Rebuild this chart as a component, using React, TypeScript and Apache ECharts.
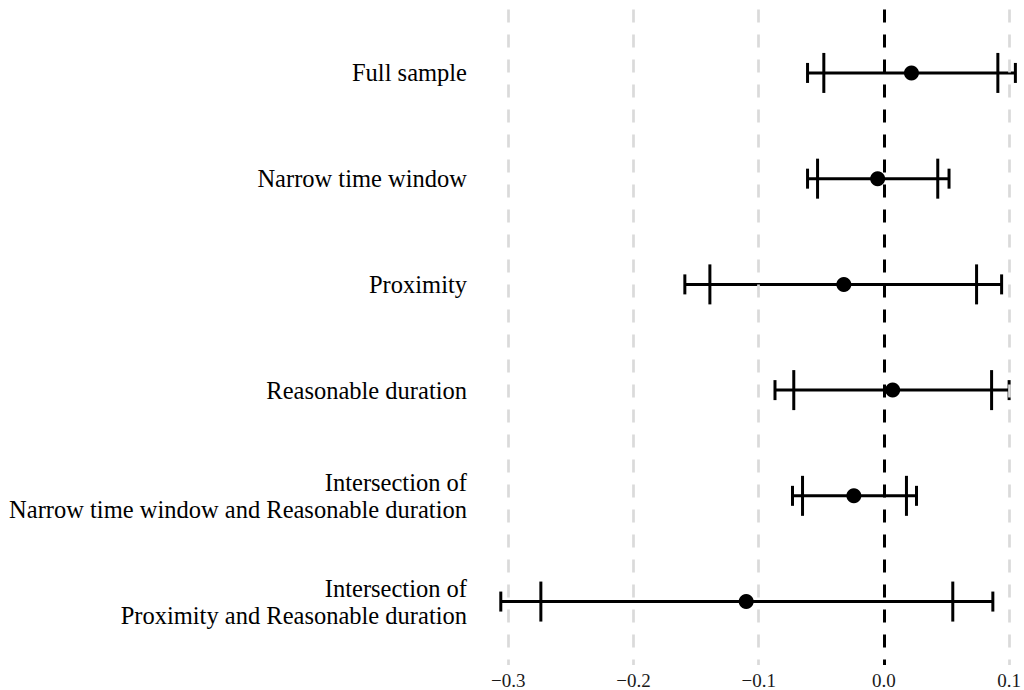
import React, { useEffect, useRef } from "react";
import * as echarts from "echarts";

const categories = [
  "Full sample",
  "Narrow time window",
  "Proximity",
  "Reasonable duration",
  "Intersection of\nNarrow time window and Reasonable duration",
  "Intersection of\nProximity and Reasonable duration",
];
const estimates = [0.022, -0.005, -0.032, 0.007, -0.024, -0.110];
const outerLow = [-0.061, -0.061, -0.159, -0.087, -0.073, -0.306];
const innerLow = [-0.048, -0.053, -0.139, -0.072, -0.065, -0.274];
const innerHigh = [0.091, 0.043, 0.074, 0.086, 0.018, 0.055];
const outerHigh = [0.105, 0.052, 0.094, 0.100, 0.026, 0.087];
const xTicks = [-0.3, -0.2, -0.1, 0.0, 0.1];
const rowPositions = [1, 2, 3, 4, 5, 6];

const fmtX = (v: number) =>
  v < 0 ? "\u2212" + Math.abs(v).toFixed(1) : v.toFixed(1);

export default function App() {
  const ref = useRef<HTMLDivElement>(null);
  useEffect(() => {
    if (!ref.current) return;
    const chart = echarts.init(ref.current, null, { renderer: "svg" });
    const barData = categories.map((_, i) => [
      rowPositions[i],
      outerLow[i],
      innerLow[i],
      innerHigh[i],
      outerHigh[i],
    ]);
    const pointData = estimates.map((v, i) => [v, rowPositions[i]]);
    chart.setOption({
      animation: false,
      backgroundColor: "#ffffff",
      grid: { left: 477, right: 0, top: 9.5, bottom: 24.5, containLabel: false },
      xAxis: {
        type: "value",
        min: -0.325,
        max: 0.11,
        splitLine: { show: false },
        axisLine: { show: false },
        axisTick: { show: false },
        axisLabel: {
          customValues: xTicks,
          formatter: (v: number) => fmtX(v),
          fontFamily: "Liberation Serif",
          fontSize: 19,
          color: "#1a1a1a",
          margin: 6,
          hideOverlap: false,
        },
      },
      yAxis: {
        type: "value",
        min: 0.4,
        max: 6.6,
        inverse: true,
        splitLine: { show: false },
        axisLine: { show: false },
        axisTick: {
          show: true,
          customValues: rowPositions,
          length: 5,
          lineStyle: { color: "#cccccc", width: 1 },
        },
        axisLabel: {
          customValues: rowPositions,
          formatter: (v: number) => categories[Math.round(v) - 1] ?? "",
          fontFamily: "Liberation Serif",
          fontSize: 24.5,
          lineHeight: 27,
          color: "#000000",
          margin: 10,
          align: "right",
        },
      },
      series: [
        {
          type: "line",
          data: [],
          silent: true,
          markLine: {
            silent: true,
            symbol: "none",
            label: { show: false },
            lineStyle: { color: "#dadada", width: 2.7, type: [13, 12] },
            data: xTicks.filter((t) => t !== 0).map((t) => ({ xAxis: t })),
          },
          z: 1,
        },
        {
          type: "line",
          data: [],
          silent: true,
          markLine: {
            silent: true,
            symbol: "none",
            label: { show: false },
            lineStyle: { color: "#000000", width: 3, type: [13, 12] },
            data: [{ xAxis: 0 }],
          },
          z: 2,
        },
        {
          type: "custom",
          data: barData,
          encode: { x: [1, 2, 3, 4], y: 0 },
          z: 3,
          renderItem: (_params: any, api: any) => {
            const y = api.value(0);
            const ol = api.coord([api.value(1), y]);
            const il = api.coord([api.value(2), y]);
            const ih = api.coord([api.value(3), y]);
            const oh = api.coord([api.value(4), y]);
            const style = { stroke: "#000000", lineWidth: 3 };
            const ln = (x1: number, y1: number, x2: number, y2: number) => ({
              type: "line",
              shape: { x1, y1, x2, y2 },
              style,
            });
            const cy = ol[1];
            return {
              type: "group",
              children: [
                ln(ol[0], cy, oh[0], cy),
                ln(ol[0], cy - 10, ol[0], cy + 10),
                ln(oh[0], cy - 10, oh[0], cy + 10),
                ln(il[0], cy - 20, il[0], cy + 20),
                ln(ih[0], cy - 20, ih[0], cy + 20),
              ],
            };
          },
        },
        {
          type: "scatter",
          data: pointData,
          symbol: "circle",
          symbolSize: 15,
          itemStyle: { color: "#000000", opacity: 1 },
          z: 4,
        },
      ],
    });
    return () => chart.dispose();
  }, []);
  return (
    <div
      ref={ref}
      style={{ position: "fixed", left: 0, top: 0, width: 1024, height: 690 }}
    />
  );
}
